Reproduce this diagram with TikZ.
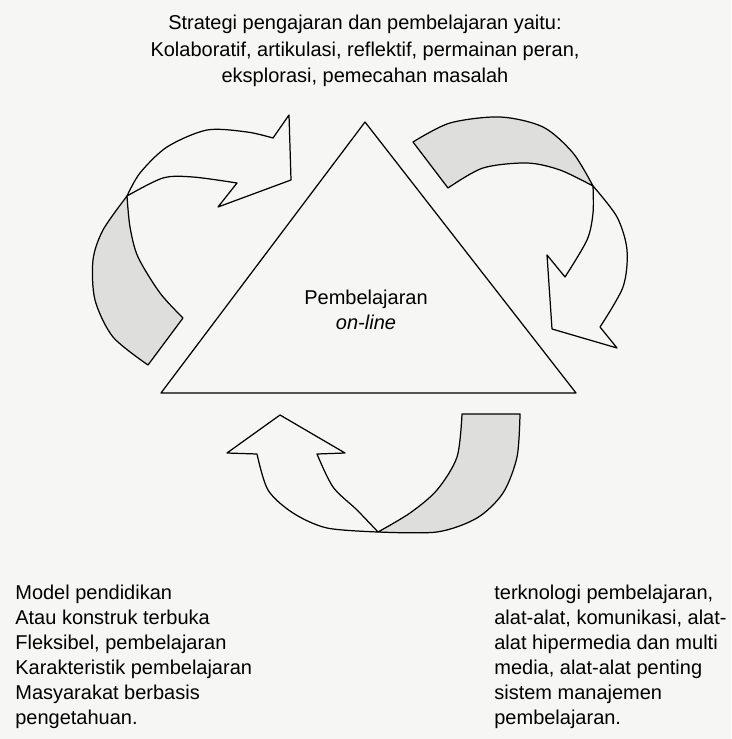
\documentclass[tikz,border=0pt]{standalone}
\usepackage{fontspec}
\setmainfont{Liberation Sans}
\usepackage{tkz-euclide}
\usetikzlibrary{calc}
\usetikzlibrary{positioning}

\definecolor{paper}{RGB}{246,246,244}
\definecolor{backside}{RGB}{222,222,220}

\begin{document}
\begin{tikzpicture}[x=0.02cm, y=-0.02cm,
    txt/.style={font=\fontsize{11.38pt}{14.23pt}\selectfont, inner sep=0pt},
    titletxt/.style={font=\fontsize{11.38pt}{15.1pt}\selectfont, inner sep=0pt},
    front/.style={draw=black, fill=paper, line width=0.7pt, line join=round},
    back/.style={draw=black, fill=backside, line width=0.7pt, line join=round}]
      \fill[paper] (0,0) rectangle (731,739);
      \useasboundingbox (0,0) rectangle (731,739);
      % triangle
      \tkzDefPoints{365/122/top,161/393/left,576/393/right}
      \tkzDrawPolygon[line width=0.7pt](top,left,right)
      % left arrow
      \path[back] plot[smooth] coordinates {(148,365) (113,337) (95,300) (93,260) (103,230) (127,196)}
        -- plot[smooth] coordinates {(127,196) (130,227) (138,257) (160,293) (183,318)} -- cycle;
      \path[front] plot[smooth] coordinates {(127,196) (140,173) (167,147) (207,130) (247,132) (273,138)}
        -- (289,115) -- (291,180) -- (218,207) -- (237,183)
        -- plot[smooth] coordinates {(237,183) (193,177) (163,178) (127,196)} -- cycle;
      % right arrow
      \path[back] plot[smooth] coordinates {(413,142) (450,123) (500,117) (543,127) (573,153) (593,186)}
        -- plot[smooth] coordinates {(593,186) (560,170) (527,163) (483,168) (448,188)} -- cycle;
      \path[front] plot[smooth] coordinates {(593,186) (617,217) (627,250) (623,287) (600,327)}
        -- (617,348) -- (552,329) -- (547,255) -- (565,277)
        -- plot[smooth] coordinates {(565,277) (587,240) (593,213) (593,186)} -- cycle;
      % bottom arrow
      \path[back] plot[smooth] coordinates {(520,414) (517,457) (503,493) (477,518) (437,532) (378,532)}
        -- plot[smooth] coordinates {(378,532) (410,513) (437,490) (457,457) (462,414)} -- cycle;
      \path[front] plot[smooth] coordinates {(378,532) (327,528) (293,513) (268,490) (257,454)}
        -- (227,453) -- (280,415) -- (345,453) -- (317,454)
        -- plot[smooth] coordinates {(317,454) (333,487) (357,510) (378,532)} -- cycle;
      % texts (base = last line)
      \node[titletxt, align=center, anchor=base] (strategi) at (365,83)
        {Strategi pengajaran dan pembelajaran yaitu:\\
         Kolaboratif, artikulasi, reflektif, permainan peran,\\
         eksplorasi, pemecahan masalah};
      \node[txt, align=center, anchor=base] (pusat) at (366,330)
        {Pembelajaran\\ \textit{on-line}};
      \node[txt, align=left, anchor=base west] (model) at (15,724)
        {Model pendidikan\\
         Atau konstruk terbuka\\
         Fleksibel, pembelajaran\\
         Karakteristik pembelajaran\\
         Masyarakat berbasis\\
         pengetahuan.};
      \node[txt, align=left, anchor=base west] (teknologi) at (494,724)
        {terknologi pembelajaran,\\
         alat-alat, komunikasi, alat-\\
         alat hipermedia dan multi\\
         media, alat-alat penting\\
         sistem manajemen\\
         pembelajaran.};
    \end{tikzpicture}
\end{document}
